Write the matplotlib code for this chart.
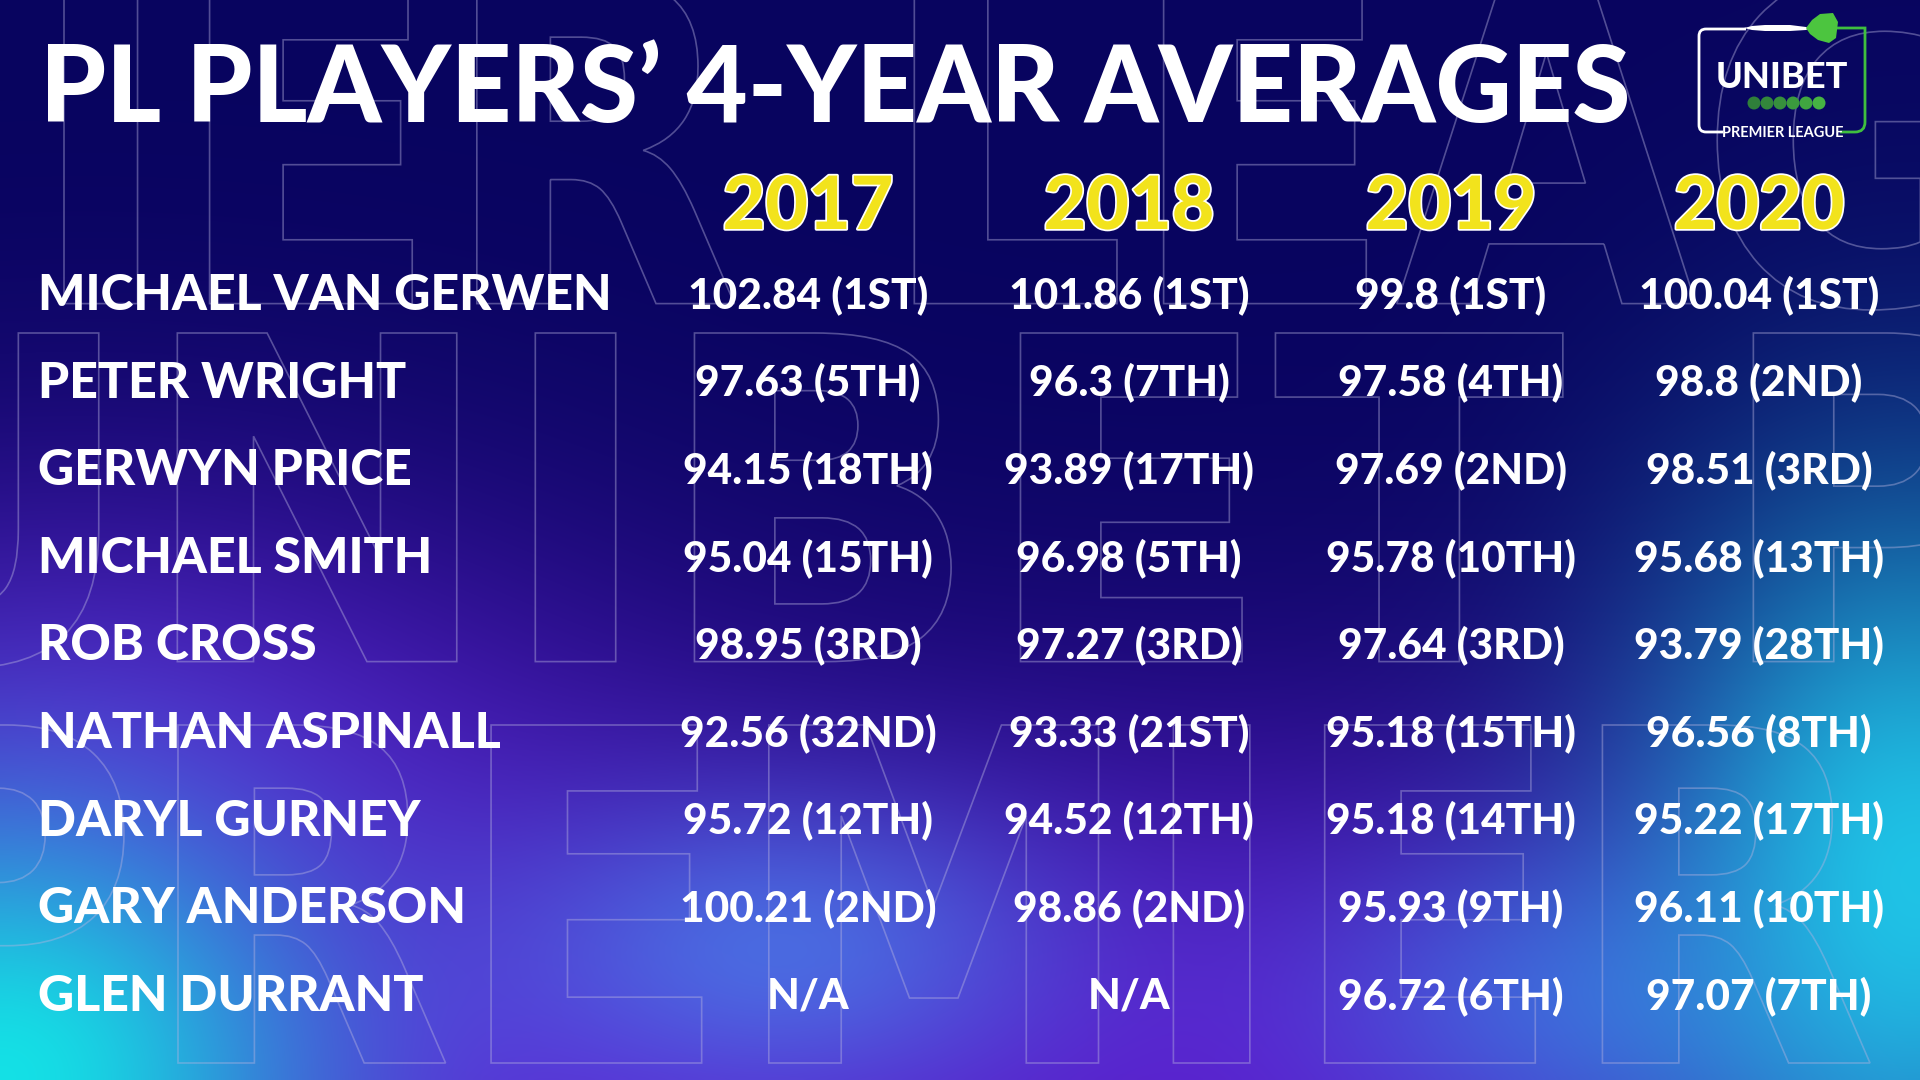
import numpy as np
import matplotlib
matplotlib.use('Agg')
import matplotlib.pyplot as plt
import matplotlib.patheffects as pe
from matplotlib.patches import PathPatch, Circle, Polygon
from matplotlib.path import Path
from matplotlib.textpath import TextPath
from matplotlib.transforms import Affine2D
from matplotlib.font_manager import FontProperties

title = "PL PLAYERS\u2019 4-YEAR AVERAGES"
years = ['2017', '2018', '2019', '2020']
players = ['MICHAEL VAN GERWEN', 'PETER WRIGHT', 'GERWYN PRICE', 'MICHAEL SMITH',
           'ROB CROSS', 'NATHAN ASPINALL', 'DARYL GURNEY', 'GARY ANDERSON', 'GLEN DURRANT']
avg_2017 = [102.84, 97.63, 94.15, 95.04, 98.95, 92.56, 95.72, 100.21, None]
avg_2018 = [101.86, 96.3, 93.89, 96.98, 97.27, 93.33, 94.52, 98.86, None]
avg_2019 = [99.8, 97.58, 97.69, 95.78, 97.64, 95.18, 95.18, 95.93, 96.72]
avg_2020 = [100.04, 98.8, 98.51, 95.68, 93.79, 96.56, 95.22, 96.11, 97.07]
rank_2017 = [1, 5, 18, 15, 3, 32, 12, 2, None]
rank_2018 = [1, 7, 17, 5, 3, 21, 12, 2, None]
rank_2019 = [1, 4, 2, 10, 3, 15, 14, 9, 6]
rank_2020 = [1, 2, 3, 13, 28, 8, 17, 10, 7]

averages = [avg_2017, avg_2018, avg_2019, avg_2020]
ranks = [rank_2017, rank_2018, rank_2019, rank_2020]

FONT = ['Lato', 'DejaVu Sans']
NAVY = (8/255, 4/255, 95/255)
YELLOW = '#f2e31c'
GREEN = '#3fbf3f'
LINE = '#b8b4e0'


def ordinal(n):
    if 10 <= n % 100 <= 20:
        suf = 'TH'
    else:
        suf = {1: 'ST', 2: 'ND', 3: 'RD'}.get(n % 10, 'TH')
    return f"{n}{suf}"


def cell_text(v, r):
    if v is None:
        return 'N/A'
    return f"{v:g} ({ordinal(r)})"


## Background gradient (navy on top, purple / cyan glow at the bottom)
def make_background(w=480, h=270):
    xs = np.linspace(0, 1920, w)
    ys = np.linspace(0, 1080, h)
    X, Y = np.meshgrid(xs, ys)
    img = np.ones((h, w, 3)) * np.array(NAVY)
    blobs = [
        # (cx, cy, sx, sy, color, strength)
        (80, 800, 400, 230, (0.40, 0.13, 0.86), 0.85),
        (1300, 1080, 500, 260, (0.42, 0.12, 0.88), 0.8),
        (500, 1080, 450, 200, (0.42, 0.12, 0.88), 0.8),
        (780, 950, 200, 110, (0.28, 0.52, 0.92), 0.75),
        (1560, 1000, 180, 110, (0.25, 0.50, 0.92), 0.6),
        (0, 1080, 230, 200, (0.08, 0.88, 0.90), 1.0),
        (1920, 880, 200, 280, (0.12, 0.80, 0.92), 0.95),
    ]
    for cx, cy, sx, sy, col, s in blobs:
        wgt = s * np.exp(-(((X - cx) / sx) ** 2 + ((Y - cy) / sy) ** 2) / 2)
        img = img * (1 - wgt[..., None]) + np.array(col) * wgt[..., None]
    return np.clip(img, 0, 1)


## Big outlined watermark letters
def outline_word(ax, word, x0, x1, y_bottom, height):
    tp = TextPath((0, 0), word, size=100, prop=FontProperties(family='DejaVu Sans', weight='bold'))
    bb = tp.get_extents()
    tr = (Affine2D().translate(-bb.x0, -bb.y0)
          .scale((x1 - x0) / bb.width, -height / bb.height)
          .translate(x0, y_bottom))
    ax.add_patch(PathPatch(tr.transform_path(tp), fill=False, ec=LINE, lw=1.2,
                           alpha=0.42, zorder=1))


fig = plt.figure(figsize=(19.2, 10.8), dpi=100)
ax = fig.add_axes([0, 0, 1, 1])
ax.set_xlim(0, 1920)
ax.set_ylim(1080, 0)
ax.axis('off')

ax.imshow(make_background(), extent=(0, 1920, 1080, 0), interpolation='bicubic',
          aspect='auto', zorder=0)

outline_word(ax, 'IER LEAG', 64, 1990, 310, 340)
outline_word(ax, 'UNIBET P', -170, 2010, 668, 335)
outline_word(ax, 'PREMIER', -120, 1870, 1063, 338)

## Title
ax.text(40, 122, title, color='white', fontsize=76, fontweight='black',
        family=FONT, ha='left', va='baseline', zorder=3)

## Year headers
col_x = [808, 1129, 1451, 1759]
for x, yr in zip(col_x, years):
    ax.text(x, 229, yr, color=YELLOW, fontsize=53, fontweight='black', family=FONT,
            ha='center', va='baseline', zorder=3,
            path_effects=[pe.Stroke(linewidth=2.5, foreground='white'), pe.Normal()])

## Rows
row_base = [308 + 87.6 * i for i in range(len(players))]
for i, name in enumerate(players):
    ax.text(38, row_base[i] + 2, name, color='white', fontsize=36, fontweight='black',
            family=FONT, ha='left', va='baseline', zorder=3)
    for j, x in enumerate(col_x):
        ax.text(x, row_base[i], cell_text(averages[j][i], ranks[j][i]), color='white',
                fontsize=30.5, fontweight='black', family=FONT, ha='center',
                va='baseline', zorder=3)

## Unibet Premier League logo
white_frame = Path([(1723, 132), (1706, 132), (1699, 132), (1699, 125), (1699, 36),
                    (1699, 29), (1706, 29), (1746, 29)],
                   [Path.MOVETO, Path.LINETO, Path.CURVE3, Path.CURVE3, Path.LINETO,
                    Path.CURVE3, Path.CURVE3, Path.LINETO])
ax.add_patch(PathPatch(white_frame, fill=False, ec='white', lw=2, zorder=4))
green_frame = Path([(1815, 28), (1865, 28), (1865, 122), (1865, 132), (1855, 132), (1840, 132)],
                   [Path.MOVETO, Path.LINETO, Path.LINETO, Path.CURVE3, Path.CURVE3, Path.LINETO])
ax.add_patch(PathPatch(green_frame, fill=False, ec=GREEN, lw=2, zorder=4))
# dart barrel
ax.add_patch(Polygon([(1744, 28), (1752, 26), (1765, 25), (1790, 25), (1806, 27),
                      (1810, 28), (1806, 30), (1790, 31), (1765, 31), (1752, 30)],
                     closed=True, fc='white', ec='none', zorder=5))
# dart flight
ax.add_patch(Polygon([(1806, 28), (1812, 20), (1820, 14), (1833, 13), (1838, 22),
                      (1836, 38), (1829, 43), (1818, 40), (1810, 34)],
                     closed=True, fc='#4cc53f', ec='none', zorder=5))
ax.text(1782, 88, 'UNIBET', color='white', fontsize=26, fontweight='black',
        family=FONT, ha='center', va='baseline', zorder=5)
dot_cols = ['#2f7f3a', '#33873b', '#37903d', '#3b9a3e', '#40a640', '#46b343']
for k, c in enumerate(dot_cols):
    ax.add_patch(Circle((1754 + 13 * k, 103), 6.5, fc=c, ec='none', zorder=5))
ax.text(1783, 137, 'PREMIER LEAGUE', color='white', fontsize=10.5, fontweight='bold',
        family=FONT, ha='center', va='baseline', zorder=5)

fig.savefig('out.png', dpi=100)
